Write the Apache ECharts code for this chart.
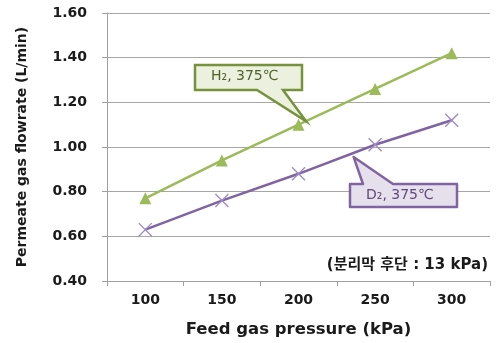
<!DOCTYPE html>
<html>
<head>
<meta charset="utf-8">
<script src="https://cdn.jsdelivr.net/npm/echarts@6/dist/echarts.min.js"></script>
<style>
  html, body { margin: 0; padding: 0; background: #fff; }
  #chart { width: 503px; height: 343px; }
</style>
</head>
<body>
<div id="chart"></div>
<script>
// Feed pressure categories (kPa)
const pressures = ['100', '150', '200', '250', '300'];
// Permeate flowrate (L/min) at 375 °C
const h2Flow = [0.77, 0.94, 1.10, 1.26, 1.42];
const d2Flow = [0.63, 0.76, 0.88, 1.01, 1.12];
// Y-axis range
const yMin = 0.4, yMax = 1.6, yStep = 0.2;

const FONT = 'DejaVu Sans';
const chart = echarts.init(document.getElementById('chart'), null, { renderer: 'canvas' });

const crossPath = 'path://M0,0.7 L0.7,0 L10,9.3 L9.3,10 Z M9.3,0 L10,0.7 L0.7,10 L0,9.3 Z';

chart.setOption({
  animation: false,
  backgroundColor: '#ffffff',
  grid: { left: 107, right: 13, top: 13, bottom: 60 },
  xAxis: {
    type: 'category',
    data: pressures,
    boundaryGap: true,
    name: 'Feed gas pressure (kPa)',
    nameLocation: 'middle',
    nameGap: 40,
    nameTextStyle: { fontFamily: FONT, fontWeight: 'bold', fontSize: 16.5, color: '#1a1a1a' },
    axisLine: { lineStyle: { color: '#a0a0a0', width: 1 } },
    axisTick: { show: true, length: 5, lineStyle: { color: '#a0a0a0' } },
    axisLabel: { fontFamily: FONT, fontWeight: 'bold', fontSize: 14, color: '#1a1a1a', margin: 12 },
    splitLine: { show: false }
  },
  yAxis: {
    type: 'value',
    min: yMin, max: yMax, interval: yStep,
    name: 'Permeate gas flowrate (L/min)',
    nameLocation: 'middle',
    nameRotate: 90,
    nameGap: 78,
    nameTextStyle: { fontFamily: FONT, fontWeight: 'bold', fontSize: 14, color: '#1a1a1a' },
    axisLine: { show: true, lineStyle: { color: '#a0a0a0', width: 1 } },
    axisTick: { show: true, length: 5, lineStyle: { color: '#a0a0a0' } },
    axisLabel: {
      fontFamily: FONT, fontWeight: 'bold', fontSize: 14, color: '#1a1a1a', margin: 20,
      formatter: v => v.toFixed(2)
    },
    splitLine: { show: true, lineStyle: { color: '#a6a6a6', width: 1 } }
  },
  series: [
    {
      name: 'H2',
      type: 'line',
      data: h2Flow,
      symbol: 'triangle',
      symbolSize: 12,
      lineStyle: { color: '#9bbb59', width: 2.5 },
      itemStyle: { color: '#9bbb59' },
      z: 3
    },
    {
      name: 'D2',
      type: 'line',
      data: d2Flow,
      symbol: crossPath,
      symbolSize: 14,
      lineStyle: { color: '#8064a2', width: 2.5 },
      itemStyle: { color: '#a08cc4' },
      z: 3
    }
  ]
});

// Pixel position between two categories (fractional index)
function pointAt(seriesIndex, idx, value) {
  const i0 = Math.floor(idx), t = idx - i0;
  const a = chart.convertToPixel({ seriesIndex }, [i0, value]);
  const b = chart.convertToPixel({ seriesIndex }, [i0 + 1, value]);
  return [a[0] + (b[0] - a[0]) * t, a[1]];
}

// Callout pointer tips sit on the two lines
const tipH = pointAt(0, 2.1, 1.115);
const tipD = pointAt(1, 2.72, 0.955);

chart.setOption({
  graphic: [
    {
      type: 'polygon',
      z: 10,
      shape: { points: [[195, 65], [302, 65], [302, 90], [283, 90], tipH, [257, 90], [195, 90]] },
      style: { fill: '#ebf1de', stroke: '#76923c', lineWidth: 2.5, lineJoin: 'miter' }
    },
    {
      type: 'text', z: 11, left: 211, top: 69,
      style: { text: 'H₂, 375℃', fontFamily: FONT, fontSize: 14, fill: '#4f6228' }
    },
    {
      type: 'polygon',
      z: 10,
      shape: { points: [[350, 184], [363, 184], tipD, [393, 184], [457, 184], [457, 207], [350, 207]] },
      style: { fill: '#e6e0ec', stroke: '#8064a2', lineWidth: 2.5, lineJoin: 'round' }
    },
    {
      type: 'text', z: 11, left: 366, top: 188,
      style: { text: 'D₂, 375℃', fontFamily: FONT, fontSize: 14, fill: '#5f497a' }
    },
    {
      type: 'text', z: 11, right: 15, top: 258,
      style: { text: '(분리막 후단 : 13 kPa)', fontFamily: 'DejaVu Sans, Noto Sans CJK KR', fontSize: 15, fontWeight: 'bold', fill: '#1a1a1a' }
    }
  ]
});
</script>
</body>
</html>
